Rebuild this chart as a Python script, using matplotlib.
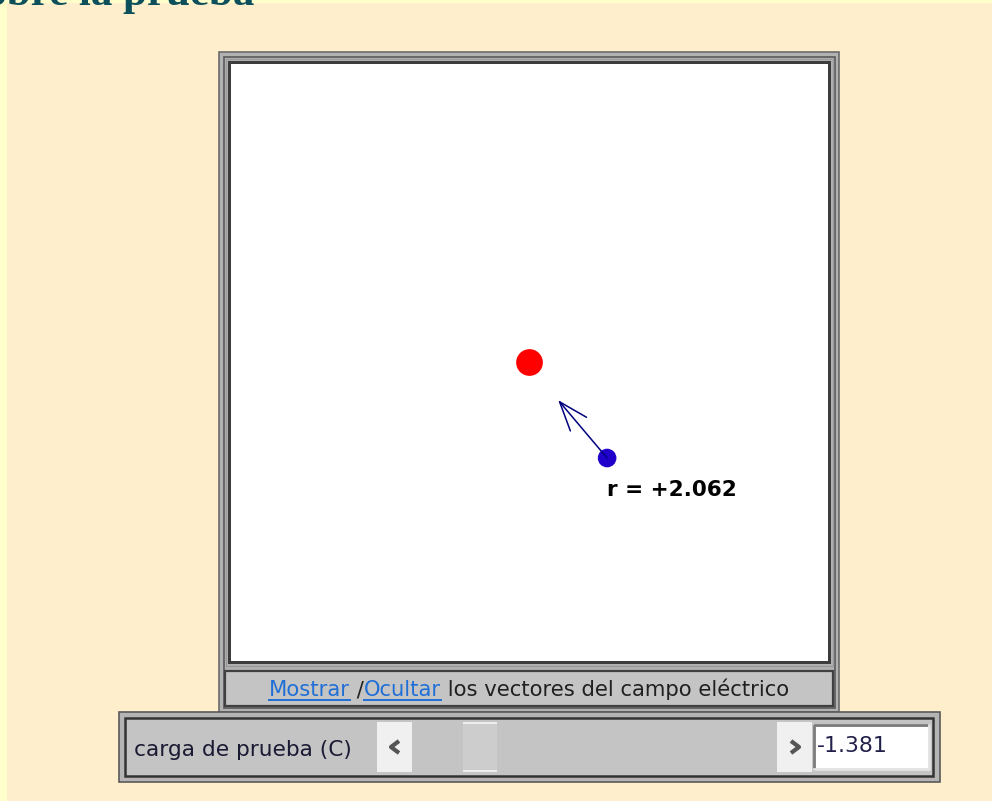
import matplotlib
matplotlib.use("Agg")
import matplotlib.pyplot as plt
from matplotlib.patches import Rectangle, FancyArrowPatch, ArrowStyle
import numpy as np

# ---------------- data ----------------
source_charge_pos = [0.0, 0.0]        # fixed (red) charge, canvas units
test_charge_pos = [1.3, -1.6]         # test (blue) charge, canvas units
field_arrow_tip = [0.48, -0.63]       # tip of field vector drawn from test charge
test_charge_value = -1.381            # carga de prueba (C)
canvas_limits = [-5.0, 5.0]
title_text = "Fuerza eléctrica sobre la prueba"
link_words = ["Mostrar", " /", "Ocultar", " los vectores del campo eléctrico"]
link_is_link = [True, False, True, False]
slider_label = "carga de prueba (C)"

r_value = float(np.hypot(test_charge_pos[0] - source_charge_pos[0],
                         test_charge_pos[1] - source_charge_pos[1]))

W, H = 992, 801
fig = plt.figure(figsize=(W / 100, H / 100), dpi=100)
fig.patch.set_facecolor("#FFEECC")

bg = fig.add_axes([0, 0, 1, 1])
bg.set_xlim(0, W)
bg.set_ylim(H, 0)
bg.axis("off")

def rect(x0, y0, x1, y1, fc="none", ec="none", lw=0, z=1):
    bg.add_patch(Rectangle((x0, y0), x1 - x0, y1 - y0, facecolor=fc,
                           edgecolor=ec, linewidth=lw, zorder=z))

# page strips
rect(0, 0, 7, H, fc="#FFFFCC", z=0)
rect(0, 0, W, 3, fc="#FFFFCC", z=0)

# title (cut off at top of the page, as in the screenshot)
bg.text(254, 5, title_text, ha="right", va="baseline", fontsize=31,
        family="Liberation Serif", fontweight="bold", color="#0E4F5C", zorder=2)

# main panel frame
rect(219, 52, 839, 712, fc="#B2B2B2", ec="#6A6A6A", lw=1.2, z=1)
rect(223.5, 56.5, 834.5, 708, fc="none", ec="#5A5A5A", lw=1.2, z=2)
rect(228, 61, 831, 664, fc="#3C3C3C", z=2)
rect(226, 59, 833, 666, fc="none", ec="#9A9A9A", lw=1.0, z=2)
# link bar
rect(225, 671, 833, 706, fc="#C4C4C4", ec="#404040", lw=1.6, z=2)

# slider panel
rect(119, 712, 940, 782, fc="#B4B4B4", ec="#5A5A5A", lw=1.2, z=1)
rect(125, 718, 933, 776, fc="#C4C4C4", ec="#333333", lw=1.8, z=2)
rect(377, 722, 412, 772, fc="#F0F0F0", z=3)
rect(777, 722, 812, 772, fc="#F0F0F0", z=3)
rect(463, 722, 497, 772, fc="#CDCDCD", z=3)
rect(463, 722, 497, 724, fc="#EEEEEE", z=4)
rect(463, 770, 497, 772, fc="#EEEEEE", z=4)
# chevrons
bg.plot([399, 391, 399], [741, 747, 753], color="#555555", lw=3,
        solid_capstyle="butt", zorder=5)
bg.plot([791, 799, 791], [741, 747, 753], color="#555555", lw=3,
        solid_capstyle="butt", zorder=5)
# text field
rect(813, 724, 930, 770, fc="#FFFFFF", z=3)
bg.plot([814, 814, 929], [769, 725, 725], color="#7A7A7A", lw=2, zorder=4)
bg.plot([814, 929, 929], [769, 769, 725], color="#E2E2E2", lw=2, zorder=4)

bg.text(134, 750, slider_label, ha="left", va="center", fontsize=15.6,
        family="DejaVu Sans", color="#1A1A34", zorder=5)
bg.text(817, 746, f"{test_charge_value:.3f}", ha="left", va="center",
        fontsize=15.8, family="DejaVu Sans", color="#20204A", zorder=5)

# link text pieces
LFS = 15.2
fig.canvas.draw()
renderer = fig.canvas.get_renderer()
def width_px(s):
    t = bg.text(0, 0, s, fontsize=LFS, family="DejaVu Sans")
    w = t.get_window_extent(renderer).width
    t.remove()
    return w
x0 = 269
base_y = 696
bar_w = width_px("|")
prefix = ""
for word, is_link in zip(link_words, link_is_link):
    xs = x0 + (width_px(prefix + "|") - bar_w if prefix else 0)
    col = "#1F6FD6" if is_link else "#202020"
    bg.text(xs, base_y, word, ha="left", va="baseline", fontsize=LFS,
            family="DejaVu Sans", color=col, zorder=5)
    if is_link:
        wlen = width_px(word)
        bg.plot([xs, xs + wlen], [base_y + 3.5, base_y + 3.5], color=col,
                lw=1.4, zorder=5)
    prefix += word

# ---------------- canvas ----------------
cx0, cy0, cx1, cy1 = 231, 64, 828, 661
ax = fig.add_axes([cx0 / W, 1 - cy1 / H, (cx1 - cx0) / W, (cy1 - cy0) / H])
ax.set_facecolor("white")
ax.set_xlim(*canvas_limits)
ax.set_ylim(*canvas_limits)
ax.set_xticks([])
ax.set_yticks([])
for s in ax.spines.values():
    s.set_visible(False)

ax.scatter([source_charge_pos[0]], [source_charge_pos[1]], s=370,
           color="#FF0000", edgecolors="none", zorder=3)
ax.scatter([test_charge_pos[0]], [test_charge_pos[1]], s=180,
           color="#2200CC", edgecolors="none", zorder=3)
arr = FancyArrowPatch(tuple(test_charge_pos), tuple(field_arrow_tip),
                      arrowstyle=ArrowStyle("->", head_length=1.05, head_width=0.38),
                      mutation_scale=20, color="#000080", lw=1.1,
                      shrinkA=0, shrinkB=0, zorder=4)
ax.add_patch(arr)
ax.annotate(f"r = {r_value:+.3f}", xy=tuple(test_charge_pos),
            xytext=(0, -32), textcoords="offset pixels", ha="left",
            va="center", fontsize=15.5, fontweight="bold",
            family="DejaVu Sans", color="#000000", zorder=5)

fig.savefig("out.png", dpi=100, facecolor=fig.get_facecolor())
